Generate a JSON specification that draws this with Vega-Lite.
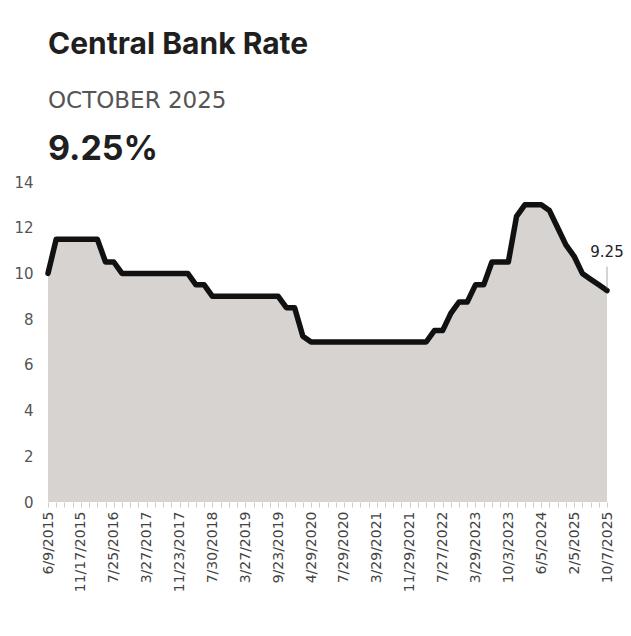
{
  "$schema": "https://vega.github.io/schema/vega-lite/v6.json",
  "background": "white",
  "padding": {"top": 30, "left": 5, "right": 5, "bottom": 5},
  "title": {
    "text": "Central Bank Rate",
    "subtitle": "OCTOBER 2025",
    "anchor": "start",
    "frame": "group",
    "font": "Inter",
    "fontSize": 30,
    "fontWeight": "bold",
    "color": "#1f1f1f",
    "subtitleFont": "DejaVu Sans",
    "subtitleFontSize": 23,
    "subtitleColor": "#555555",
    "subtitlePadding": 30,
    "offset": 20
  },
  "datasets": {
    "rates": [
      {"date": "6/9/2015", "rate": 10.0},
      {"date": "7/7/2015", "rate": 11.5},
      {"date": "8/4/2015", "rate": 11.5},
      {"date": "9/29/2015", "rate": 11.5},
      {"date": "11/17/2015", "rate": 11.5},
      {"date": "1/26/2016", "rate": 11.5},
      {"date": "3/22/2016", "rate": 11.5},
      {"date": "5/23/2016", "rate": 10.5},
      {"date": "7/25/2016", "rate": 10.5},
      {"date": "9/20/2016", "rate": 10.0},
      {"date": "11/28/2016", "rate": 10.0},
      {"date": "1/24/2017", "rate": 10.0},
      {"date": "3/27/2017", "rate": 10.0},
      {"date": "5/29/2017", "rate": 10.0},
      {"date": "7/18/2017", "rate": 10.0},
      {"date": "9/18/2017", "rate": 10.0},
      {"date": "11/23/2017", "rate": 10.0},
      {"date": "1/24/2018", "rate": 10.0},
      {"date": "3/19/2018", "rate": 9.5},
      {"date": "5/28/2018", "rate": 9.5},
      {"date": "7/30/2018", "rate": 9.0},
      {"date": "9/24/2018", "rate": 9.0},
      {"date": "11/26/2018", "rate": 9.0},
      {"date": "1/28/2019", "rate": 9.0},
      {"date": "3/27/2019", "rate": 9.0},
      {"date": "5/27/2019", "rate": 9.0},
      {"date": "7/24/2019", "rate": 9.0},
      {"date": "8/19/2019", "rate": 9.0},
      {"date": "9/23/2019", "rate": 9.0},
      {"date": "11/25/2019", "rate": 8.5},
      {"date": "1/27/2020", "rate": 8.5},
      {"date": "3/23/2020", "rate": 7.25},
      {"date": "4/29/2020", "rate": 7.0},
      {"date": "5/28/2020", "rate": 7.0},
      {"date": "6/25/2020", "rate": 7.0},
      {"date": "7/8/2020", "rate": 7.0},
      {"date": "7/29/2020", "rate": 7.0},
      {"date": "9/28/2020", "rate": 7.0},
      {"date": "11/26/2020", "rate": 7.0},
      {"date": "1/27/2021", "rate": 7.0},
      {"date": "3/29/2021", "rate": 7.0},
      {"date": "5/26/2021", "rate": 7.0},
      {"date": "7/27/2021", "rate": 7.0},
      {"date": "9/28/2021", "rate": 7.0},
      {"date": "11/29/2021", "rate": 7.0},
      {"date": "1/26/2022", "rate": 7.0},
      {"date": "3/29/2022", "rate": 7.0},
      {"date": "5/30/2022", "rate": 7.5},
      {"date": "7/27/2022", "rate": 7.5},
      {"date": "9/29/2022", "rate": 8.25},
      {"date": "11/29/2022", "rate": 8.75},
      {"date": "1/30/2023", "rate": 8.75},
      {"date": "3/29/2023", "rate": 9.5},
      {"date": "5/30/2023", "rate": 9.5},
      {"date": "6/26/2023", "rate": 10.5},
      {"date": "8/9/2023", "rate": 10.5},
      {"date": "10/3/2023", "rate": 10.5},
      {"date": "12/5/2023", "rate": 12.5},
      {"date": "2/6/2024", "rate": 13.0},
      {"date": "4/3/2024", "rate": 13.0},
      {"date": "6/5/2024", "rate": 13.0},
      {"date": "8/6/2024", "rate": 12.75},
      {"date": "10/8/2024", "rate": 12.0},
      {"date": "12/5/2024", "rate": 11.25},
      {"date": "2/5/2025", "rate": 10.75},
      {"date": "4/8/2025", "rate": 10.0},
      {"date": "6/10/2025", "rate": 9.75},
      {"date": "8/12/2025", "rate": 9.5},
      {"date": "10/7/2025", "rate": 9.25}
    ]
  },
  "vconcat": [
    {
      "title": {
        "text": "9.25%",
        "anchor": "start",
        "frame": "group",
        "font": "Inter",
        "fontSize": 34,
        "fontWeight": "bold",
        "color": "#1f1f1f",
        "offset": 8
      },
      "width": 559,
      "height": 320,
      "data": {"name": "rates"},
      "encoding": {
        "x": {
          "field": "date",
          "type": "ordinal",
          "sort": null,
          "scale": {"type": "point", "padding": 0},
          "axis": {
            "title": null,
            "domain": false,
            "labelAngle": -90,
            "labelFont": "DejaVu Sans",
            "labelFontSize": 14,
            "labelColor": "#444444",
            "labelPadding": 4,
            "labelOverlap": false,
            "tickSize": 5,
            "tickColor": "#cccccc",
            "labelExpr": "indexof(['6/9/2015','11/17/2015','7/25/2016','3/27/2017','11/23/2017','7/30/2018','3/27/2019','9/23/2019','4/29/2020','7/29/2020','3/29/2021','11/29/2021','7/27/2022','3/29/2023','10/3/2023','6/5/2024','2/5/2025','10/7/2025'], datum.value) >= 0 ? datum.value : ''"
          }
        },
        "y": {
          "field": "rate",
          "type": "quantitative",
          "scale": {"domain": [0, 14], "nice": false},
          "axis": {
            "title": null,
            "values": [0, 2, 4, 6, 8, 10, 12, 14],
            "domain": false,
            "ticks": false,
            "grid": false,
            "labelFont": "DejaVu Sans",
            "labelFontSize": 15,
            "labelColor": "#555555",
            "labelPadding": 15,
            "minExtent": 43
          }
        }
      },
      "layer": [
        {"mark": {"type": "area", "color": "#d6d3d0", "opacity": 1}},
        {"mark": {"type": "line", "color": "#111111", "strokeWidth": 5.5, "strokeJoin": "round", "strokeCap": "round"}},
        {
          "transform": [{"filter": "datum.date === '10/7/2025'"}],
          "mark": {"type": "tick", "orient": "vertical", "size": 22, "thickness": 1, "yOffset": -13, "color": "#888888"}
        },
        {
          "transform": [{"filter": "datum.date === '10/7/2025'"}],
          "mark": {"type": "text", "dy": -39, "font": "DejaVu Sans", "fontSize": 15, "color": "#222222"},
          "encoding": {"text": {"field": "rate", "type": "quantitative", "format": ".2f"}}
        }
      ]
    }
  ],
  "config": {"view": {"stroke": null}}
}
